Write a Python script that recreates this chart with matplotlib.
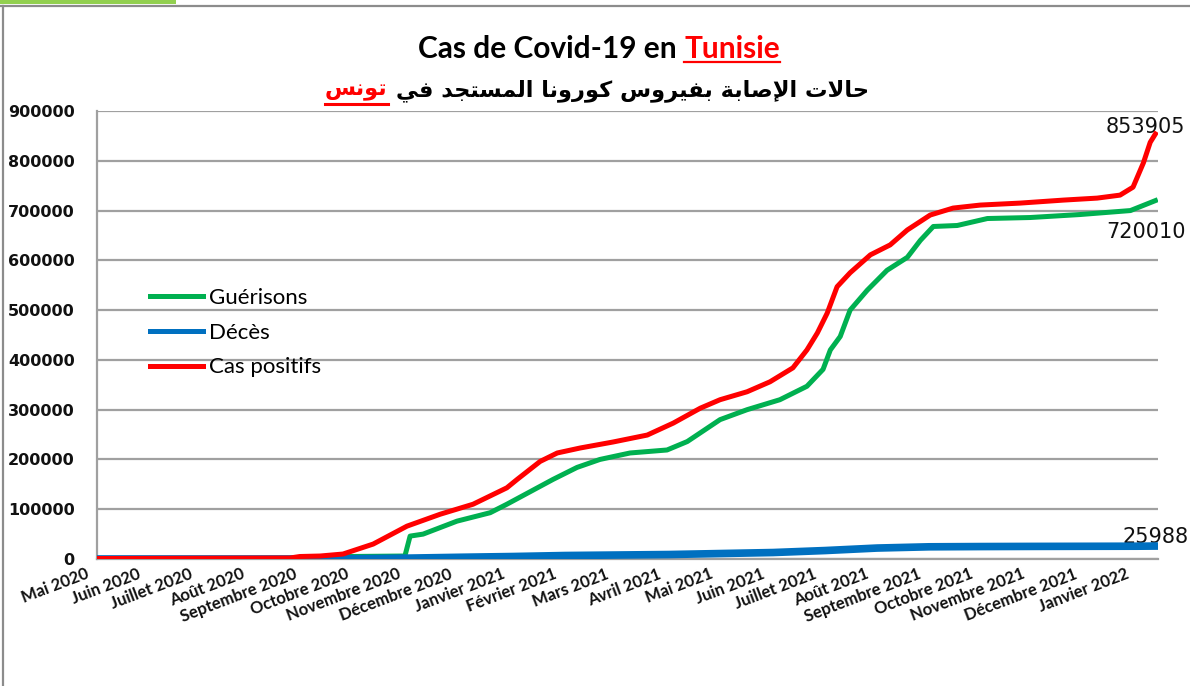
import matplotlib
matplotlib.use('Agg')
import matplotlib.pyplot as plt
from matplotlib.lines import Line2D
from matplotlib.patches import Rectangle
from matplotlib.transforms import ScaledTranslation

# ---------------- data ----------------
month_labels = ["Mai 2020", "Juin 2020", "Juillet 2020", "Août 2020", "Septembre 2020",
                "Octobre 2020", "Novembre 2020", "Décembre 2020", "Janvier 2021",
                "Février 2021", "Mars 2021", "Avril 2021", "Mai 2021", "Juin 2021",
                "Juillet 2021", "Août 2021", "Septembre 2021", "Octobre 2021",
                "Novembre 2021", "Décembre 2021", "Janvier 2022"]

# x positions are in months since the first label (Mai 2020 = 0)
cas_x = [0, 3.71, 3.9, 4.29, 4.73, 5.31, 5.96, 6.6, 7.23, 7.88, 8.08, 8.52, 8.85,
         9.29, 9.92, 10.58, 11.08, 11.6, 11.98, 12.5, 12.94, 13.38, 13.65, 13.85,
         14.04, 14.23, 14.48, 14.87, 15.25, 15.58, 16.02, 16.46, 16.98, 17.75,
         18.58, 19.23, 19.67, 19.92, 20.12, 20.25, 20.35]
cas_y = [1000, 2000, 5000, 6000, 10000, 30000, 66000, 90000, 110000, 143000, 160000,
         196000, 213000, 223000, 235000, 249000, 273000, 303000, 320000, 336000,
         356000, 384000, 420000, 454000, 494000, 547000, 575000, 611000, 631000,
         661000, 691000, 705000, 711000, 715000, 721000, 725000, 731000, 747000,
         796000, 837000, 853905]

gue_x = [0, 4.67, 4.81, 5.92, 6.02, 6.27, 6.92, 7.56, 7.88, 8.77, 9.23, 9.67, 10.25,
         10.96, 11.35, 11.98, 12.5, 13.13, 13.65, 13.96, 14.1, 14.29, 14.48, 14.81,
         15.19, 15.58, 15.83, 16.08, 16.54, 17.12, 17.94, 18.9, 19.87, 20.35]
gue_y = [0, 0, 5000, 6000, 46000, 50000, 76000, 93000, 110000, 160000, 184000,
         200000, 213000, 219000, 236000, 280000, 300000, 320000, 347000, 381000,
         420000, 447000, 500000, 540000, 580000, 606000, 640000, 668000, 670000,
         684000, 686000, 692000, 700000, 720010]

dec_x = [0, 3, 4, 5, 6, 7, 8, 9, 10, 11, 12, 13, 14, 15, 16, 17, 18, 19, 20, 20.35]
dec_y = [50, 60, 150, 600, 1800, 3500, 5000, 7000, 8000, 9000, 11000, 13000, 17000,
         22000, 24500, 25000, 25300, 25500, 25700, 25988]

yticks = [0, 100000, 200000, 300000, 400000, 500000, 600000, 700000, 800000, 900000]

# ---------------- Arabic shaping helper ----------------
FORMS = {
    'ا': ('\uFE8D', '\uFE8E', None, None),
    'إ': ('\uFE87', '\uFE88', None, None),
    'ب': ('\uFE8F', '\uFE90', '\uFE91', '\uFE92'),
    'ة': ('\uFE93', '\uFE94', None, None),
    'ت': ('\uFE95', '\uFE96', '\uFE97', '\uFE98'),
    'ج': ('\uFE9D', '\uFE9E', '\uFE9F', '\uFEA0'),
    'ح': ('\uFEA1', '\uFEA2', '\uFEA3', '\uFEA4'),
    'د': ('\uFEA9', '\uFEAA', None, None),
    'ر': ('\uFEAD', '\uFEAE', None, None),
    'س': ('\uFEB1', '\uFEB2', '\uFEB3', '\uFEB4'),
    'ص': ('\uFEB9', '\uFEBA', '\uFEBB', '\uFEBC'),
    'ف': ('\uFED1', '\uFED2', '\uFED3', '\uFED4'),
    'ك': ('\uFED9', '\uFEDA', '\uFEDB', '\uFEDC'),
    'ل': ('\uFEDD', '\uFEDE', '\uFEDF', '\uFEE0'),
    'م': ('\uFEE1', '\uFEE2', '\uFEE3', '\uFEE4'),
    'ن': ('\uFEE5', '\uFEE6', '\uFEE7', '\uFEE8'),
    'و': ('\uFEED', '\uFEEE', None, None),
    'ي': ('\uFEF1', '\uFEF2', '\uFEF3', '\uFEF4'),
}
LAMALEF = {'ا': ('\uFEFB', '\uFEFC'), 'إ': ('\uFEF9', '\uFEFA')}


def shape(s):
    ch = list(s)
    n = len(ch)
    out = []
    i = 0
    while i < n:
        c = ch[i]
        if c not in FORMS:
            out.append(c)
            i += 1
            continue
        prev = ch[i - 1] if i > 0 else ' '
        pc = prev in FORMS and FORMS[prev][2] is not None
        if c == 'ل' and i + 1 < n and ch[i + 1] in LAMALEF:
            iso, fin = LAMALEF[ch[i + 1]]
            out.append(fin if pc else iso)
            i += 2
            continue
        nxt = ch[i + 1] if i + 1 < n else ' '
        iso, fin, ini, med = FORMS[c]
        cn = ini is not None and nxt in FORMS
        if pc and cn:
            out.append(med)
        elif pc:
            out.append(fin)
        elif cn:
            out.append(ini)
        else:
            out.append(iso)
        i += 1
    return ''.join(reversed(out))


# ---------------- figure ----------------
W, H = 1190, 686
fig = plt.figure(figsize=(W / 100, H / 100), dpi=100)
fig.patch.set_facecolor('white')

def fx(px):
    return px / W

def fy(py):
    return 1 - py / H

ax = fig.add_axes([fx(97), fy(559), (1158 - 97) / W, (559 - 111) / H])

c_red = '#FF0000'
c_green = '#00B050'
c_blue = '#0070C0'
c_grid = '#A0A0A0'

ax.set_xlim(0, 20.4)
ax.set_ylim(0, 900000)
ax.set_yticks(yticks)
ax.set_yticklabels([str(v) for v in yticks], fontfamily='DejaVu Sans',
                   fontweight='bold', fontsize=11.5, color='#111111')
ax.set_xticks(list(range(len(month_labels))))
ax.set_xticklabels([])
ax.tick_params(axis='y', length=0, pad=16)
ax.tick_params(axis='x', length=0)

# month labels: rotated, ending slightly left of each month position (as in the original)
lab_tr = ax.get_xaxis_transform() + ScaledTranslation(-12 / 100, -7 / 100, fig.dpi_scale_trans)
for i, lab in enumerate(month_labels):
    ax.text(i, 0, lab, transform=lab_tr, rotation=21, ha='right', va='top',
            rotation_mode='anchor', fontfamily='Lato', fontweight='bold', fontsize=12,
            color='#111111', clip_on=False)

ax.grid(axis='y', color=c_grid, linewidth=1.6)
ax.grid(axis='x', visible=False)
ax.set_axisbelow(True)
for s in ['top', 'right']:
    ax.spines[s].set_visible(False)
ax.spines['left'].set_color(c_grid)
ax.spines['left'].set_linewidth(1.6)
ax.spines['bottom'].set_color(c_grid)
ax.spines['bottom'].set_linewidth(1.6)

l1, = ax.plot(gue_x, gue_y, color=c_green, lw=3.6, label='Guérisons', zorder=3,
              solid_joinstyle='round')
l2, = ax.plot(dec_x, dec_y, color=c_blue, lw=5.5, label='Décès', zorder=4)
l3, = ax.plot(cas_x, cas_y, color=c_red, lw=3.6, label='Cas positifs', zorder=5,
              solid_joinstyle='round')

leg = ax.legend(handles=[l1, l2, l3], loc='upper left',
                bbox_to_anchor=((150 - 97) / 1061, (559 - 288) / 448),
                frameon=False, borderpad=0, borderaxespad=0, handlelength=2.4,
                handletextpad=0.25, labelspacing=0.66,
                prop={'family': 'Lato', 'size': 16})
for h in leg.get_lines():
    h.set_linewidth(3.6)

# end labels
ax.annotate('853905', xy=(cas_x[-1], cas_y[-1]), xytext=(30, 7), textcoords='offset pixels',
            ha='right', va='center', fontsize=15, fontfamily='DejaVu Sans', color='#111111',
            annotation_clip=False)
ax.annotate('720010', xy=(gue_x[-1], gue_y[-1]), xytext=(30, -31), textcoords='offset pixels',
            ha='right', va='center', fontsize=15, fontfamily='DejaVu Sans', color='#111111',
            annotation_clip=False)
ax.annotate('25988', xy=(dec_x[-1], dec_y[-1]), xytext=(33, 9), textcoords='offset pixels',
            ha='right', va='center', fontsize=15, fontfamily='DejaVu Sans', color='#111111',
            annotation_clip=False)

# ---------------- titles ----------------
renderer = fig.canvas.get_renderer()

def width_px(t):
    return t.get_window_extent(renderer).width

# line 1
t1a = fig.text(0, fy(49), 'Cas de Covid-19 en ', fontfamily='Lato', fontweight='bold',
               fontsize=21.5, va='center', ha='left', color='black')
t1b = fig.text(0, fy(49), 'Tunisie', fontfamily='Lato', fontweight='bold',
               fontsize=21.5, va='center', ha='left', color=c_red)
wa, wb = width_px(t1a), width_px(t1b)
x0 = 599 - (wa + wb) / 2
t1a.set_x(fx(x0))
t1b.set_x(fx(x0 + wa))
fig.add_artist(Line2D([fx(x0 + wa), fx(x0 + wa + wb)], [fy(62), fy(62)], color=c_red, lw=1.6))

# line 2 (Arabic, right-to-left)
ar_black = 'حالات الإصابة بفيروس كورونا المستجد في'
ar_red = 'تونس'
t2a = fig.text(0, fy(91), shape(ar_black), fontfamily='DejaVu Sans', fontweight='bold',
               fontsize=16.2, va='center', ha='left', color='black')
t2b = fig.text(0, fy(91), shape(ar_red), fontfamily='DejaVu Sans', fontweight='bold',
               fontsize=16.2, va='center', ha='left', color=c_red)
wa2, wb2 = width_px(t2a), width_px(t2b)
gap = 8
x0 = 597 - (wa2 + wb2 + gap) / 2
t2b.set_x(fx(x0))
t2a.set_x(fx(x0 + wb2 + gap))
fig.add_artist(Line2D([fx(x0), fx(x0 + wb2)], [fy(104), fy(104)], color=c_red, lw=2.2))

# ---------------- frame ----------------
fig.add_artist(Line2D([0, 1], [fy(6), fy(6)], color='#8C8C8C', lw=1.6))
fig.add_artist(Line2D([fx(3), fx(3)], [fy(6), 0], color='#8C8C8C', lw=1.6))
fig.add_artist(Rectangle((0, fy(4)), fx(176), 4 / H, transform=fig.transFigure,
                         color='#92D050', lw=0))

fig.savefig('out.png', dpi=100, facecolor='white')
